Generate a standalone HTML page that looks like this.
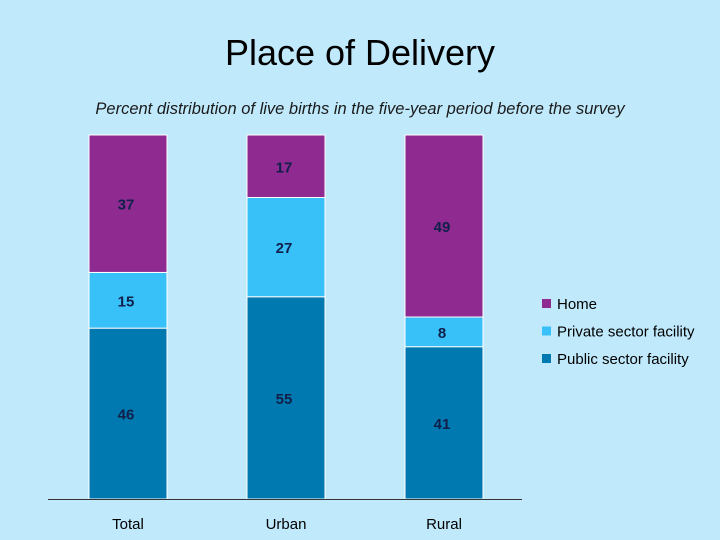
<!DOCTYPE html>
<html><head><meta charset="utf-8"><style>
html,body{margin:0;padding:0;background:#c0eafc;}
svg{display:block;font-family:"Liberation Sans",sans-serif;}
</style></head><body>
<svg width="720" height="540">
<rect width="720" height="540" fill="#c0eafc"/>
<text x="360" y="65" text-anchor="middle" font-size="36" fill="#000">Place of Delivery</text>
<text x="360" y="114" text-anchor="middle" font-size="16.5" font-style="italic" fill="#1a1a1a">Percent distribution of live births in the five-year period before the survey</text>
<g id="bars"></g>
<line x1="48" y1="499.5" x2="522" y2="499.5" stroke="#333" stroke-width="1"/>
<g id="legend"></g>
</svg>
<script>
const categories=["Total","Urban","Rural"];
const publicVals=[46,55,41];
const privateVals=[15,27,8];
const homeVals=[37,17,49];
const seriesNames=["Public sector facility","Private sector facility","Home"];
const colors=["#0079b0","#38c0f8","#8e2a90"];
const NS="http://www.w3.org/2000/svg";
const g=document.getElementById("bars");
const top0=135,base=499,barW=78;
function xCenter(i){return 128+i*158;}
function mk(t,a){const e=document.createElementNS(NS,t);for(const k in a)e.setAttribute(k,a[k]);return e;}
const series=[publicVals,privateVals,homeVals];
const keys=["public","private","home"];
categories.forEach((c,i)=>{
  const sum=publicVals[i]+privateVals[i]+homeVals[i];
  const y=v=>(base-top0)*v/sum;
  let cur=base;
  series.forEach((s,k)=>{
    const h=y(s[i]);
    const r=mk("rect",{x:xCenter(i)-barW/2,y:cur-h,width:barW,height:h,fill:colors[k],stroke:"#ffffff","stroke-width":1});
    
    
    g.appendChild(r);
    const t=mk("text",{x:xCenter(i)-2,y:cur-h/2+6,"text-anchor":"middle","font-size":15,fill:"#10204a","font-weight":"bold"});
    t.textContent=s[i];
    
    
    g.appendChild(t);
    cur-=h;
  });
  const l=mk("text",{x:xCenter(i),y:529,"text-anchor":"middle","font-size":15,fill:"#000"});
  l.textContent=c;
  
  
  g.appendChild(l);
});
const lg=document.getElementById("legend");
[2,1,0].forEach((k,j)=>{
  const yy=304+j*27.5;
  const r=mk("rect",{x:542,y:yy-5,width:9,height:9,fill:colors[k]});
  
  
  lg.appendChild(r);
  const t=mk("text",{x:557,y:yy+5,"font-size":15,fill:"#000"});
  t.textContent=seriesNames[k];
  
  
  lg.appendChild(t);
});
</script>
</body></html>
